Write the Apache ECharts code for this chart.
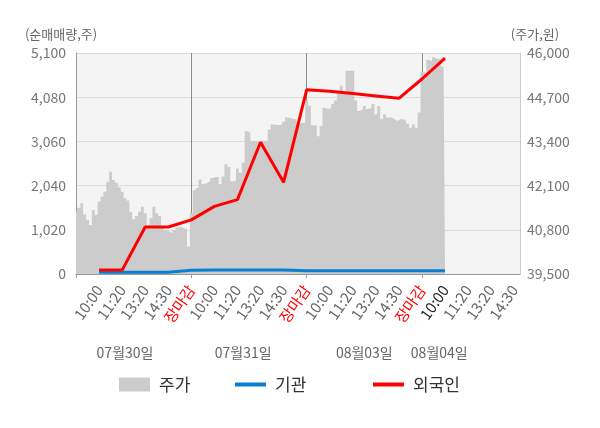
<!DOCTYPE html>
<html>
<head>
    <meta charset="utf-8">
    <title>주가 / 기관 / 외국인 순매매량</title>
    <script src="https://cdn.jsdelivr.net/npm/echarts@6.0.0/dist/echarts.min.js"></script>
    <style>
        html, body { margin: 0; padding: 0; background: #fff; }
        #chart { width: 600px; height: 428px; }
    </style>
</head>
<body>
<div id="chart"></div>
<script>
    // 날짜, 시간 라벨
    var dates = ['07월30일', '07월31일', '08월03일', '08월04일'];
    var slotLabels = ['10:00', '11:20', '13:20', '14:30', '장마감'];

    // 주가 (원), 하루 40칸 기준으로 읽은 값
    var price = [
        41285, 41450, 41580, 41250, 41090, 40940, 41380, 41240, 41630, 41770,
        41920, 42215, 42510, 42265, 42185, 42050, 41920, 41725, 41660, 41330,
        41110, 41206, 41330, 41480, 41285, 40940, 41140, 41480, 41285, 41206,
        40890, 40794, 40745, 40700, 40794, 40870, 40890, 40845, 40820, 40300,
        41300, 41960, 42030, 42277, 42150, 42180, 42230, 42320, 42350, 42350,
        42150, 42370, 42730, 42650, 42227, 42250, 42600, 42480, 42770, 43700,
        43650, 43410, 43420, 43400, 43410, 43420, 43420, 43750, 43900, 43880,
        43880, 43900, 43980, 44100, 44080, 44060, 44050, 43910, 43950, 43950,
        44600, 44450, 43873, 43860, 43550, 43850, 44390, 44345, 44395, 44500,
        44600, 44838, 45034, 44850, 45477, 45477, 45477, 44600, 44296, 44350,
        44440, 44350, 44395, 44500, 44200, 44443, 44050, 44200, 44100, 44100,
        44050, 44000, 44050, 44050, 44000, 43920, 43800, 43900, 43800, 44250,
        45450, 45400, 45800, 45750, 45870, 45820, 45820, 45600, 45450
    ];

    // 누적 순매매량 (주): 10:00, 11:20, 13:20, 14:30, 장마감 시점
    var institution = [40, 40, 40, 40, 85, 90, 90, 90, 90, 75, 75, 75, 75, 75, 75, 75];
    var foreign = [90, 90, 1085, 1085, 1250, 1560, 1715, 3040, 2115, 4250, 4220, 4165, 4110, 4055, 4500, 4980];

    var leftTicks = [0, 5100, 1020];
    var rightTicks = [39500, 46000, 1300];

    // 축 구성
    var perSlot = 8;
    var perDay = perSlot * 5;
    var total = perDay * 3 + perSlot * 4 + 2;   // 마지막 날은 14:30 조금 뒤까지
    var lastDataIdx = perDay * 3 + perSlot;     // 08월04일 10:00

    var cats = [];
    for (var i = 0; i <= total; i++) cats.push(String(i));

    function slotName(i) {
        if (i === 0) return '';
        if (i % perDay === 0) return slotLabels[4];
        if ((i % perDay) % perSlot === 0) return slotLabels[(i % perDay) / perSlot - 1];
        return '';
    }

    // 시점 데이터를 축 위치에 배치
    function toSeries(vals) {
        var out = [];
        for (var i = 0; i <= lastDataIdx; i++) out.push(null);
        vals.forEach(function (v, k) { out[(k + 1) * perSlot] = v; });
        return out;
    }

    var dateAt = {17: 0, 58: 1, 100: 2, 126: 3};

    var font = 'Noto Sans CJK KR';
    var chart = echarts.init(document.getElementById('chart'));

    function legendFor(name, left, icon, h) {
        return {
            data: [name], left: left, top: 371, icon: icon,
            itemWidth: 31, itemHeight: h, selectedMode: false,
            textStyle: {fontFamily: font, fontSize: 17, color: '#333', padding: [0, 0, 0, 4]}
        };
    }

    var option = {
        animation: false,
        textStyle: {fontFamily: font},
        grid: {
            left: 76, right: 80, top: 53, bottom: 154,
            show: true, backgroundColor: '#f4f4f4', borderWidth: 0
        },
        legend: [
            legendFor('주가', 114, 'rect', 14),
            legendFor('기관', 230, 'rect', 4),
            legendFor('외국인', 368, 'rect', 4)
        ],
        xAxis: [{
            type: 'category',
            data: cats,
            boundaryGap: false,
            axisLine: {lineStyle: {color: '#999'}},
            axisTick: {
                length: 4,
                interval: function (i) { return i % perDay === 0; },
                lineStyle: {color: '#999'}
            },
            splitLine: {
                show: true,
                interval: function (i) { return i > 0 && i % perDay === 0; },
                lineStyle: {color: '#8c8c8c'}
            },
            axisLabel: {
                interval: function (i) { return slotName(i) !== ''; },
                rotate: 55,
                margin: 13,
                fontSize: 15,
                formatter: function (v) {
                    var i = +v;
                    var s = slotName(i);
                    if (s === slotLabels[4]) return '{r|' + s + '}';
                    if (i === lastDataIdx) return '{k|' + s + '}';
                    return '{n|' + s + '}';
                },
                rich: {
                    n: {color: '#666', fontSize: 15, fontFamily: font},
                    r: {color: '#ff0000', fontSize: 15, fontFamily: font},
                    k: {color: '#222', fontSize: 15, fontFamily: font}
                }
            }
        }, {
            type: 'category',
            data: cats,
            boundaryGap: false,
            position: 'bottom',
            axisLine: {show: false},
            axisTick: {show: false},
            splitLine: {show: false},
            axisLabel: {
                interval: function (i) { return dateAt[i] !== undefined; },
                formatter: function (v) { return dates[dateAt[+v]]; },
                margin: 72,
                fontSize: 14,
                color: '#666'
            }
        }],
        yAxis: [{
            type: 'value',
            name: '(순매매량,주)',
            nameGap: 12,
            nameTextStyle: {color: '#666', fontSize: 13, padding: [0, 30, 0, 0]},
            min: leftTicks[0], max: leftTicks[1], interval: leftTicks[2],
            axisLine: {show: true, lineStyle: {color: '#999'}},
            axisTick: {show: false},
            axisLabel: {
                color: '#777', fontSize: 14, margin: 10,
                formatter: function (v) { return v.toLocaleString('en-US'); }
            },
            splitLine: {lineStyle: {color: '#dcdcdc'}}
        }, {
            type: 'value',
            name: '(주가,원)',
            nameGap: 12,
            nameTextStyle: {color: '#666', fontSize: 13, padding: [0, 0, 0, 30]},
            min: rightTicks[0], max: rightTicks[1], interval: rightTicks[2],
            position: 'right',
            axisLine: {show: true, lineStyle: {color: '#ccc'}},
            axisTick: {show: false},
            axisLabel: {
                color: '#777', fontSize: 14, margin: 7,
                formatter: function (v) { return v.toLocaleString('en-US'); }
            },
            splitLine: {show: false}
        }],
        series: [{
            name: '주가',
            type: 'line',
            yAxisIndex: 1,
            data: price,
            step: 'middle',
            symbol: 'none',
            itemStyle: {color: '#cccccc'},
            lineStyle: {width: 0},
            areaStyle: {color: '#cccccc', opacity: 1, origin: 'start'}
        }, {
            name: '기관',
            type: 'line',
            yAxisIndex: 0,
            data: toSeries(institution),
            connectNulls: true,
            symbol: 'none',
            itemStyle: {color: '#0a7fd2'},
            lineStyle: {color: '#0a7fd2', width: 3}
        }, {
            name: '외국인',
            type: 'line',
            yAxisIndex: 0,
            data: toSeries(foreign),
            connectNulls: true,
            symbol: 'none',
            itemStyle: {color: '#ff0000'},
            lineStyle: {color: '#ff0000', width: 3}
        }]
    };

    chart.setOption(option);
</script>
</body>
</html>
